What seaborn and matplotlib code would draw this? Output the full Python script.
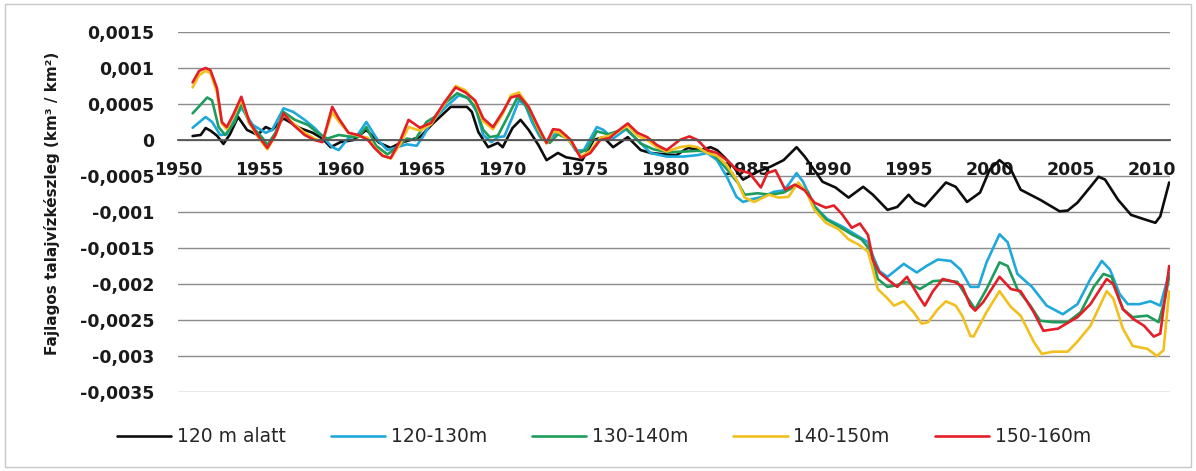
import matplotlib
matplotlib.use("Agg")
import matplotlib.pyplot as plt
import pandas as pd
import seaborn as sns
from matplotlib.ticker import FixedLocator, FuncFormatter
from matplotlib.patches import Rectangle

# ---- data -------------------------------------------------------------
series_names = ["120 m alatt", "120-130m", "130-140m", "140-150m", "150-160m"]
series_colors = ["#0d0d0d", "#1fa8dc", "#1e9c5c", "#f2c01e", "#e41e26"]

years_120 = [1950.9, 1951.4, 1951.7, 1952.0, 1952.4, 1952.8, 1953.2, 1953.7, 1954.25, 1954.9,
             1955.4, 1955.8, 1956.5, 1957.5, 1958.3, 1958.9, 1959.4, 1960.0, 1960.8, 1961.6,
             1962.4, 1963.1, 1963.7, 1964.9, 1965.7, 1966.8, 1967.8, 1968.1, 1968.5, 1969.1,
             1969.7, 1970.0, 1970.6, 1971.1, 1971.6, 1972.2, 1972.7, 1973.4, 1973.9, 1974.9,
             1975.6, 1976.2, 1976.8, 1977.7, 1978.5, 1979.1, 1980.0, 1980.7, 1981.4, 1982.2,
             1982.8, 1983.2, 1983.7, 1984.2, 1984.8, 1985.7, 1986.5, 1987.3, 1988.1, 1988.6,
             1989.2, 1989.7, 1990.5, 1991.3, 1992.2, 1992.8, 1993.7, 1994.3, 1995.0, 1995.4,
             1996.0, 1997.3, 1997.9, 1998.6, 1999.4, 2000.0, 2000.6, 2001.3, 2001.9, 2003.1,
             2004.3, 2004.8, 2005.4, 2006.2, 2006.7, 2007.1, 2007.9, 2008.7, 2009.5, 2010.2,
             2010.5, 2011.05]
values_120 = [0.000055, 0.00007, 0.000166, 0.00013, 0.00006, -0.000055, 0.00008, 0.00032, 0.00014, 0.00007,
              0.00018, 0.00014, 0.0003, 0.000166, 0.0001, 0.00002, -0.0001, -0.00003, 0.0, 0.00014,
              -0.00004, -0.00011, -0.00004, 0.00004, 0.00023, 0.00046, 0.00046, 0.00039, 0.00011, -0.0001,
              -0.00004, -0.0001, 0.000166, 0.00028, 0.00014, -0.00007, -0.00028, -0.00018, -0.00024, -0.00028,
              0.0, 0.00004, -0.0001, 0.00004, -0.00014, -0.00018, -0.0002, -0.00021, -0.00011, -0.00014,
              -0.0001, -0.00014, -0.00025, -0.00037, -0.00055, -0.00044, -0.00037, -0.00028, -0.0001, -0.00023,
              -0.00042, -0.00058, -0.00066, -0.0008, -0.00065, -0.00076, -0.00097, -0.00093, -0.00076, -0.00086,
              -0.00092, -0.00059, -0.00065, -0.00086, -0.00073, -0.00041, -0.00028, -0.00041, -0.00069, -0.00083,
              -0.00099, -0.00098, -0.00087, -0.00065, -0.00051, -0.00055, -0.00083, -0.00104, -0.0011, -0.00115,
              -0.00106, -0.00059]

years_120_130 = [1950.9, 1951.7, 1952.1, 1952.6, 1953.0, 1953.4, 1953.9, 1954.6, 1955.4, 1955.8,
                 1956.5, 1957.1, 1957.8, 1958.4, 1958.9, 1959.5, 1959.9, 1960.5, 1961.0, 1961.6,
                 1962.3, 1962.9, 1963.5, 1964.1, 1964.7, 1965.1, 1965.6, 1966.5, 1967.3, 1967.9,
                 1968.4, 1968.8, 1969.3, 1969.7, 1970.1, 1970.6, 1971.0, 1971.4, 1971.8, 1972.3,
                 1972.7, 1973.3, 1973.9, 1974.5, 1975.0, 1975.8, 1976.2, 1976.8, 1977.6, 1978.3,
                 1979.1, 1980.1, 1981.1, 1982.0, 1982.6, 1983.2, 1983.8, 1984.4, 1984.8, 1985.4,
                 1986.0, 1986.7, 1987.3, 1987.6, 1988.1, 1988.5, 1989.2, 1990.0, 1990.9, 1991.7,
                 1992.5, 1992.8, 1993.2, 1993.7, 1994.7, 1995.5, 1996.1, 1996.8, 1997.6, 1998.2,
                 1998.8, 1999.3, 1999.8, 2000.6, 2001.1, 2001.7, 2002.6, 2003.5, 2004.5, 2005.4,
                 2006.2, 2006.9, 2007.4, 2008.0, 2008.5, 2009.2, 2009.9, 2010.5, 2011.05]
values_120_130 = [0.00017, 0.00032, 0.00025, 0.00007, 0.00008, 0.00025, 0.00045, 0.00021, 0.0001, 0.00014,
                  0.00044, 0.00039, 0.00028, 0.00017, 0.00005, -0.0001, -0.00014, 0.00003, 0.00005, 0.00025,
                  0.0, -0.00014, -0.0001, -0.00006, -0.00008, 0.00005, 0.00025, 0.00046, 0.00062, 0.00058,
                  0.00039, 0.00007, -0.00003, 0.00004, 0.00005, 0.00032, 0.00055, 0.00048, 0.00025, 0.00004,
                  -0.00002, 0.0001, 0.00006, -0.00015, -0.00014, 0.00018, 0.00014, 0.00002, 0.00015, 0.0,
                  -0.00018, -0.00023, -0.00023, -0.00021, -0.00018, -0.00028, -0.00051, -0.00079, -0.00086, -0.00082,
                  -0.00079, -0.00072, -0.0007, -0.00062, -0.00046, -0.00058, -0.00092, -0.0011, -0.0012, -0.00131,
                  -0.00142, -0.00161, -0.00182, -0.0019, -0.00172, -0.00184, -0.00175, -0.00166, -0.00168, -0.0018,
                  -0.00204, -0.00204, -0.0017, -0.00131, -0.00142, -0.00186, -0.00204, -0.0023, -0.00242, -0.00228,
                  -0.00193, -0.00168, -0.0018, -0.00214, -0.00228, -0.00228, -0.00224, -0.0023, -0.00185]

years_130_140 = [1950.9, 1951.8, 1952.1, 1952.5, 1952.9, 1953.5, 1953.9, 1954.4, 1955.2, 1955.5,
                 1956.0, 1956.5, 1957.2, 1958.0, 1958.6, 1959.2, 1959.9, 1960.5, 1961.1, 1961.6,
                 1962.2, 1962.9, 1963.5, 1964.1, 1964.6, 1965.3, 1965.8, 1966.5, 1967.2, 1967.8,
                 1968.3, 1968.8, 1969.2, 1969.7, 1970.3, 1970.9, 1971.3, 1971.8, 1972.4, 1972.9,
                 1973.4, 1974.0, 1974.7, 1975.2, 1975.8, 1976.5, 1977.6, 1978.5, 1979.3, 1980.2,
                 1981.2, 1982.0, 1982.7, 1983.2, 1983.9, 1984.5, 1984.9, 1985.7, 1986.5, 1987.3,
                 1988.2, 1988.8, 1989.2, 1989.9, 1990.7, 1991.5, 1992.1, 1992.6, 1992.9, 1993.1,
                 1993.7, 1994.2, 1994.9, 1995.7, 1996.5, 1997.2, 1998.0, 1998.5, 1999.1, 1999.8,
                 2000.6, 2001.1, 2001.7, 2002.5, 2003.1, 2003.9, 2004.8, 2005.6, 2006.4, 2007.0,
                 2007.5, 2008.2, 2008.8, 2009.7, 2010.4, 2010.8, 2011.05]
values_130_140 = [0.00037, 0.00059, 0.00055, 0.00018, 0.00007, 0.00025, 0.00051, 0.00023, 0.00003, -0.00007,
                  0.0001, 0.00039, 0.00028, 0.00021, 0.0001, 0.00002, 0.00007, 0.00005, 0.00004, 0.00018,
                  -0.00008, -0.0002, -0.0001, 0.00002, 0.0, 0.00025, 0.00032, 0.00052, 0.00065, 0.00059,
                  0.00046, 0.00014, 0.00004, 0.00006, 0.00032, 0.00059, 0.00052, 0.00032, 0.00003, -0.00004,
                  0.00008, 0.00002, -0.00018, -0.00013, 0.00012, 0.00008, 0.00016, -0.00005, -0.00013, -0.00017,
                  -0.00016, -0.00015, -0.00016, -0.00025, -0.00043, -0.0006, -0.00076, -0.00074, -0.00076, -0.00073,
                  -0.00062, -0.00072, -0.00092, -0.0011, -0.0012, -0.00131, -0.00138, -0.00152, -0.00175, -0.00193,
                  -0.00204, -0.00202, -0.00197, -0.00207, -0.00196, -0.00195, -0.00197, -0.00215, -0.00235, -0.00207,
                  -0.0017, -0.00175, -0.00207, -0.0023, -0.00251, -0.00253, -0.00253, -0.00239, -0.00204, -0.00186,
                  -0.0019, -0.00235, -0.00246, -0.00244, -0.00253, -0.0022, -0.0019]

years_140_150 = [1950.9, 1951.3, 1951.7, 1952.0, 1952.4, 1952.7, 1953.0, 1953.4, 1953.9, 1954.4,
                 1954.9, 1955.5, 1956.0, 1956.5, 1957.1, 1957.8, 1958.4, 1958.9, 1959.5, 1959.9,
                 1960.5, 1961.1, 1961.7, 1962.1, 1962.6, 1963.1, 1963.7, 1964.2, 1964.9, 1965.6,
                 1966.4, 1967.1, 1967.7, 1968.3, 1968.8, 1969.4, 1970.0, 1970.5, 1971.0, 1971.6,
                 1972.2, 1972.7, 1973.1, 1973.5, 1974.2, 1974.8, 1975.4, 1976.0, 1976.6, 1977.0,
                 1977.7, 1978.3, 1978.9, 1979.5, 1980.1, 1980.9, 1981.5, 1982.0, 1982.6, 1983.2,
                 1983.8, 1984.4, 1984.9, 1985.5, 1986.4, 1987.0, 1987.6, 1988.2, 1988.7, 1989.2,
                 1989.9, 1990.7, 1991.3, 1991.9, 1992.5, 1992.8, 1993.1, 1993.7, 1994.1, 1994.7,
                 1995.3, 1995.8, 1996.2, 1996.8, 1997.3, 1997.9, 1998.3, 1998.8, 1999.0, 1999.8,
                 2000.6, 2001.3, 2001.9, 2002.7, 2003.2, 2003.9, 2004.8, 2005.4, 2006.2, 2007.2,
                 2007.6, 2008.2, 2008.8, 2009.7, 2010.3, 2010.7, 2011.05]
values_140_150 = [0.00073, 0.0009, 0.00096, 0.00093, 0.00066, 0.00023, 0.00015, 0.00032, 0.00056, 0.00023,
                  0.00005, -0.00013, 0.00006, 0.00036, 0.00023, 0.0001, 0.00002, -0.00002, 0.00038, 0.00026,
                  0.0001, 0.00006, 0.00003, -0.0001, -0.00021, -0.00026, -0.00005, 0.00018, 0.00013, 0.00022,
                  0.0005, 0.00075, 0.00069, 0.00053, 0.00026, 0.00015, 0.00036, 0.00062, 0.00066, 0.00046,
                  0.00015, -0.00005, 0.00012, 0.0001, -0.00003, -0.00023, -0.00015, 0.00003, 0.00006, 0.0001,
                  0.0002, 0.00006, 0.0, -0.0001, -0.00016, -0.0001, -0.00008, -0.0001, -0.00018, -0.00022,
                  -0.00035, -0.00055, -0.0008, -0.00086, -0.00076, -0.0008, -0.00079, -0.00059, -0.00072, -0.00097,
                  -0.00115, -0.00124, -0.00138, -0.00145, -0.00155, -0.0018, -0.00207, -0.0022, -0.0023, -0.00224,
                  -0.00239, -0.00255, -0.00253, -0.00235, -0.00224, -0.0023, -0.00244, -0.00272, -0.00273, -0.00239,
                  -0.0021, -0.00232, -0.00244, -0.0028, -0.00297, -0.00294, -0.00294, -0.0028, -0.00258, -0.0021,
                  -0.0022, -0.00262, -0.00286, -0.0029, -0.003, -0.00292, -0.0021]

years_150_160 = [1950.9, 1951.3, 1951.7, 1952.0, 1952.4, 1952.7, 1953.0, 1953.4, 1953.9, 1954.4,
                 1954.9, 1955.5, 1956.0, 1956.5, 1957.1, 1957.8, 1958.4, 1958.9, 1959.5, 1959.9,
                 1960.5, 1961.1, 1961.7, 1962.1, 1962.6, 1963.1, 1963.7, 1964.2, 1964.9, 1965.6,
                 1966.4, 1967.1, 1967.7, 1968.3, 1968.8, 1969.4, 1970.0, 1970.5, 1971.0, 1971.6,
                 1972.2, 1972.7, 1973.1, 1973.5, 1974.2, 1974.8, 1975.4, 1976.0, 1976.6, 1977.0,
                 1977.7, 1978.3, 1978.9, 1979.5, 1980.1, 1980.9, 1981.5, 1982.0, 1982.6, 1983.2,
                 1983.8, 1984.4, 1985.2, 1985.9, 1986.3, 1986.8, 1987.4, 1988.0, 1988.6, 1989.2,
                 1989.9, 1990.4, 1990.9, 1991.5, 1992.0, 1992.5, 1992.8, 1993.2, 1993.9, 1994.3,
                 1994.9, 1995.7, 1996.0, 1996.5, 1997.1, 1997.8, 1998.3, 1998.8, 1999.1, 1999.6,
                 2000.6, 2001.3, 2001.9, 2002.7, 2003.3, 2004.2, 2005.4, 2006.2, 2007.2, 2007.6,
                 2008.2, 2008.8, 2009.5, 2010.1, 2010.5, 2011.05]
values_150_160 = [0.0008, 0.00096, 0.001, 0.00097, 0.00072, 0.00025, 0.00018, 0.00035, 0.0006, 0.00025,
                  0.00007, -0.00011, 0.00007, 0.00037, 0.00021, 0.00007, 0.0, -0.00003, 0.00046, 0.0003,
                  0.0001, 0.00007, 0.0, -0.00011, -0.00022, -0.00025, 0.0, 0.00028, 0.00017, 0.00024,
                  0.00052, 0.00073, 0.00066, 0.00055, 0.0003, 0.00018, 0.00039, 0.00059, 0.00062, 0.00046,
                  0.00018, -0.00004, 0.00015, 0.00014, 0.0, -0.00025, -0.00018, 0.0, 0.00003, 0.00011,
                  0.00023, 0.0001, 0.00004, -0.00007, -0.00014, 0.0, 0.00005, 0.0, -0.00014, -0.00018,
                  -0.00028, -0.00041, -0.00046, -0.00066, -0.00046, -0.00042, -0.00069, -0.00062, -0.0007, -0.00087,
                  -0.00094, -0.00091, -0.00103, -0.00122, -0.00116, -0.00132, -0.00166, -0.00184, -0.00197, -0.00204,
                  -0.0019, -0.0022, -0.0023, -0.0021, -0.00193, -0.00197, -0.00203, -0.0023, -0.00237, -0.00225,
                  -0.0019, -0.00207, -0.0021, -0.00239, -0.00265, -0.00262, -0.00246, -0.00228, -0.00193, -0.002,
                  -0.00235, -0.00248, -0.00258, -0.00273, -0.00269, -0.00175]

y_ticks = [0.0015, 0.001, 0.0005, 0.0, -0.0005, -0.001, -0.0015, -0.002, -0.0025, -0.003, -0.0035]
x_ticks = [1950, 1955, 1960, 1965, 1970, 1975, 1980, 1985, 1990, 1995, 2000, 2005, 2010]
y_label = "Fajlagos talajvízkészleg (km³ / km²)"

# ---- long table for seaborn -------------------------------------------
series_data = [
    (series_names[0], years_120, values_120),
    (series_names[1], years_120_130, values_120_130),
    (series_names[2], years_130_140, values_130_140),
    (series_names[3], years_140_150, values_140_150),
    (series_names[4], years_150_160, values_150_160),
]
frames = []
for name, yrs, vals in series_data:
    assert len(yrs) == len(vals), name
    frames.append(pd.DataFrame({"year": yrs, "value": vals, "series": name}))
df = pd.concat(frames, ignore_index=True)

# ---- figure -----------------------------------------------------------
sns.set_theme(style="white")
plt.rcParams["font.family"] = ["DejaVu Sans"]

W, H = 1196, 471
fig = plt.figure(figsize=(W / 100, H / 100), dpi=100)
ax = fig.add_axes([178 / W, 1 - 392 / H, (1170 - 178) / W, (392 - 32) / H])

sns.lineplot(data=df, x="year", y="value", hue="series", hue_order=series_names,
             palette=dict(zip(series_names, series_colors)), estimator=None, sort=False,
             linewidth=1.9, ax=ax, legend=False)

ax.set_xlim(1950, 2011.1)
ax.set_ylim(-0.0035, 0.0015)
ax.yaxis.set_major_locator(FixedLocator(y_ticks))
ax.xaxis.set_major_locator(FixedLocator(x_ticks))


def comma_fmt(v, pos):
    s = f"{round(v, 6):g}"
    if s == "-0":
        s = "0"
    return s.replace(".", ",")


ax.yaxis.set_major_formatter(FuncFormatter(comma_fmt))
ax.xaxis.set_major_formatter(FuncFormatter(lambda v, pos: f"{int(round(v))}"))

ax.yaxis.grid(True, color="#8c8c8c", linewidth=1.0)
ax.xaxis.grid(False)
ax.set_axisbelow(True)
for side in ("left", "right", "top"):
    ax.spines[side].set_visible(False)
ax.spines["bottom"].set_position(("data", 0))
ax.spines["bottom"].set_color("#555555")
ax.spines["bottom"].set_linewidth(1.3)

ax.tick_params(axis="both", length=0, labelsize=12.5, colors="#1a1a1a")
ax.tick_params(axis="y", pad=17)
ax.tick_params(axis="x", pad=15)
for lbl in ax.get_xticklabels() + ax.get_yticklabels():
    lbl.set_fontweight("bold")
ax.set_xlabel("")
ax.set_ylabel("")

fig.text(52 / W, 1 - 203 / H, y_label, rotation=90, ha="center", va="center",
         fontsize=11, fontweight="bold", color="#1a1a1a")

fig.legend(handles=list(ax.lines[:5]), labels=series_names, loc="center",
           bbox_to_anchor=(604 / W, 1 - 437 / H), ncol=5, frameon=False,
           handlelength=2.9, handletextpad=0.3, columnspacing=2.4, fontsize=13.5)

fig.patches.append(Rectangle((5 / W, 4 / H), (W - 10) / W, (H - 8) / H,
                             transform=fig.transFigure, fill=False,
                             edgecolor="#c8c8c8", linewidth=1.0))

fig.savefig("out.png", dpi=100)
